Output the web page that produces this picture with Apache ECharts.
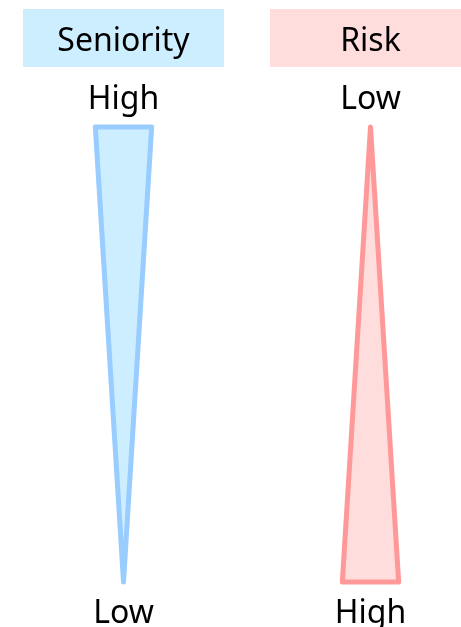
<!DOCTYPE html>
<html>
<head>
<meta charset="utf-8">
<script src="https://cdn.jsdelivr.net/npm/echarts@6/dist/echarts.min.js"></script>
<style>html,body{margin:0;padding:0;background:#fff}#c{width:461px;height:627px}</style>
</head>
<body>
<div id="c"></div>
<script>
const categories = ['Seniority', 'Risk'];
const topLabels = ['High', 'Low'];
const bottomLabels = ['Low', 'High'];
const topLevel = [1, 0];     // relative width of wedge at the top
const bottomLevel = [0, 1];  // relative width of wedge at the bottom

const headerFill = ['#cdeeff', '#ffdddd'];
const wedgeFill = ['#cdeeff', '#ffdddd'];
const wedgeStroke = ['#99ccff', '#ff9999'];
const FONT = '"Noto Sans", sans-serif';

const chart = echarts.init(document.getElementById('c'));
chart.setOption({
  animation: false,
  grid: { left: 0, right: 0, top: 127, height: 455 },
  xAxis: { type: 'value', min: -0.5, max: -0.5 + 461 / 247, show: false },
  yAxis: { type: 'value', min: 0, max: 100, show: false },
  series: [{
    type: 'custom',
    clip: false,
    data: categories.map((c, i) => [i, topLevel[i], bottomLevel[i]]),
    renderItem: function (params, api) {
      const i = params.dataIndex;
      const x = api.value(0);
      const top = api.coord([x, 100]);
      const bot = api.coord([x, 0]);
      const band = api.size([1, 0])[0];
      const hw = band * 0.114;
      const ht = api.value(1) * hw;
      const hb = api.value(2) * hw;
      const boxHalf = band * 0.407;
      return {
        type: 'group',
        children: [
          { type: 'rect', shape: { x: top[0] - boxHalf, y: top[1] - 118, width: boxHalf * 2, height: 58 },
            style: { fill: headerFill[i] } },
          { type: 'text', x: top[0], y: top[1] - 85,
            style: { text: categories[i], font: '32px ' + FONT, fill: '#000', align: 'center', verticalAlign: 'middle' } },
          { type: 'text', x: top[0], y: top[1] - 27,
            style: { text: topLabels[i], font: '32px ' + FONT, fill: '#000', align: 'center', verticalAlign: 'middle' } },
          { type: 'text', x: bot[0], y: bot[1] + 32,
            style: { text: bottomLabels[i], font: '32px ' + FONT, fill: '#000', align: 'center', verticalAlign: 'middle' } },
          { type: 'polygon',
            shape: { points: [[top[0] - ht, top[1]], [top[0] + ht, top[1]], [bot[0] + hb, bot[1]], [bot[0] - hb, bot[1]]] },
            style: { fill: wedgeFill[i], stroke: wedgeStroke[i], lineWidth: 5, lineJoin: 'round' } }
        ]
      };
    }
  }]
});
</script>
</body>
</html>
